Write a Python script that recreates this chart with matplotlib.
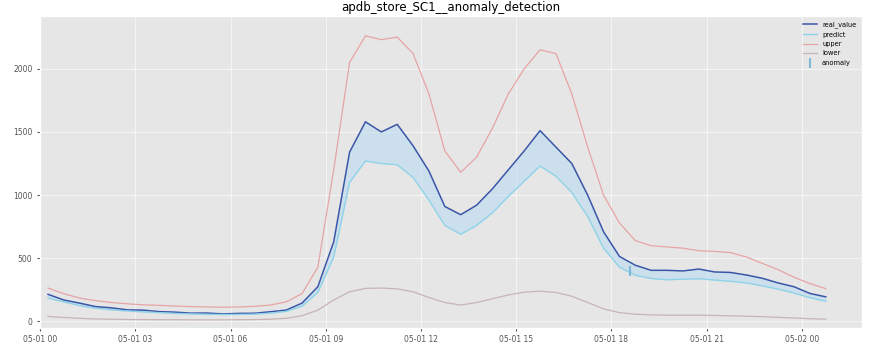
import matplotlib
matplotlib.use('Agg')
import matplotlib.pyplot as plt
import matplotlib.dates as mdates
import numpy as np
import pandas as pd

# half-hourly samples over one day
times = pd.date_range('2019-05-01 00:15', periods=50, freq='30min')

real_value = [215, 170, 145, 118, 108, 92, 90, 78, 74, 66,
              67, 60, 64, 65, 77, 90, 145, 275, 630, 1340,
              1580, 1500, 1560, 1390, 1190, 910, 845, 920, 1050, 1200,
              1350, 1510, 1380, 1250, 1000, 710, 515, 445, 405, 405,
              400, 415, 392, 388, 368, 342, 305, 275, 222, 195]
predict = [185, 155, 125, 105, 92, 83, 76, 70, 64, 60,
           57, 55, 56, 58, 66, 80, 120, 230, 510, 1100,
           1270, 1250, 1240, 1140, 960, 760, 690, 760, 860, 990,
           1110, 1230, 1150, 1020, 830, 580, 430, 365, 340, 330,
           335, 338, 328, 318, 305, 282, 256, 225, 188, 160]
upper = [265, 220, 185, 165, 150, 140, 132, 128, 122, 118,
         115, 113, 115, 120, 130, 155, 220, 430, 1200, 2050,
         2260, 2230, 2250, 2120, 1800, 1350, 1180, 1300, 1530, 1800,
         2000, 2150, 2120, 1800, 1380, 1000, 780, 640, 600, 590,
         580, 560, 555, 545, 510, 460, 410, 350, 300, 260]
lower = [40, 32, 25, 20, 18, 16, 15, 14, 14, 13,
         13, 13, 14, 15, 18, 25, 45, 90, 170, 235,
         262, 265, 258, 235, 190, 150, 130, 150, 180, 210,
         232, 240, 230, 200, 150, 100, 70, 58, 52, 50,
         50, 50, 48, 45, 42, 38, 33, 28, 22, 18]

anomaly_times = pd.to_datetime(['2019-05-01 18:35'])
anomaly_values = [400]

plt.style.use('ggplot')
plt.rcParams['grid.linewidth'] = 0.6
plt.rcParams['grid.alpha'] = 0.7
fig, ax = plt.subplots(figsize=(8.71, 3.48), dpi=100)
fig.subplots_adjust(left=0.046, right=0.99, top=0.955, bottom=0.058)
ax.set_facecolor('#e6e6e6')

ax.fill_between(times, predict, real_value, color='#b4daf2', alpha=0.5, lw=0)
ax.plot(times, real_value, color='#3a56a8', lw=1.1, label='real_value')
ax.plot(times, predict, color='#8fd3e8', lw=1.0, label='predict')
ax.plot(times, upper, color='#e6a4a4', lw=0.9, label='upper')
ax.plot(times, lower, color='#c8b4b4', lw=0.9, label='lower')
ax.scatter(anomaly_times, anomaly_values, marker='|', s=60, color='#7fb8d8',
           label='anomaly', zorder=5)

ax.set_xlim(pd.Timestamp('2019-05-01 00:00'), pd.Timestamp('2019-05-02 01:54'))
ax.set_ylim(-50, 2420)
ax.set_yticks([0, 500, 1000, 1500, 2000])
ax.xaxis.set_major_locator(mdates.HourLocator(byhour=range(0, 24, 3)))
ax.xaxis.set_major_formatter(mdates.DateFormatter('%m-%d %H'))
ax.tick_params(labelsize=5.5, length=2)

ax.set_title('apdb_store_SC1__anomaly_detection', fontsize=8.5, pad=3)
ax.legend(loc='upper right', fontsize=4.8, frameon=False)

plt.savefig('out.png', dpi=100)
